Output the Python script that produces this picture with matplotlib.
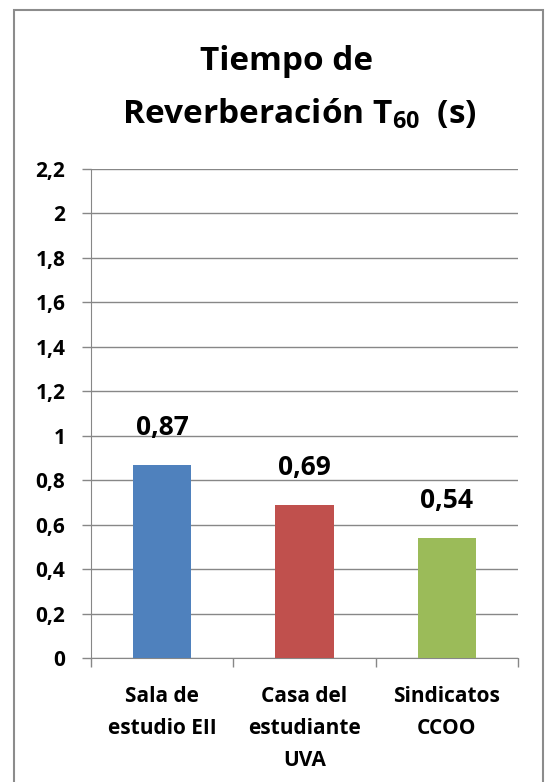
import matplotlib.pyplot as plt
from matplotlib.patches import Rectangle

# chart data
categories = ['Sala de\nestudio EII', 'Casa del\nestudiante\nUVA', 'Sindicatos\nCCOO']
values = [0.87, 0.69, 0.54]
value_labels = ['0,87', '0,69', '0,54']
colors = ['#4f81bd', '#c0504d', '#9bbb59']
yticks = [0, 0.2, 0.4, 0.6, 0.8, 1.0, 1.2, 1.4, 1.6, 1.8, 2.0, 2.2]
ytick_labels = ['0', '0,2', '0,4', '0,6', '0,8', '1', '1,2', '1,4', '1,6', '1,8', '2', '2,2']

plt.rcParams['font.family'] = ['Open Sans', 'DejaVu Sans']
plt.rcParams['mathtext.fontset'] = 'custom'
plt.rcParams['mathtext.rm'] = 'Open Sans:bold'
plt.rcParams['mathtext.bf'] = 'Open Sans:bold'
grid_col = '#878787'

W, H = 547, 782
fig = plt.figure(figsize=(W / 100, H / 100), dpi=100)

# outer chart border
fig.patches.append(Rectangle((14 / W, -0.01), (543 - 14) / W, 1 - 10 / H + 0.01,
                             transform=fig.transFigure, fill=False,
                             edgecolor='#8c8c8c', linewidth=1.5))

ax = fig.add_axes([91 / W, 1 - 658 / H, (518 - 91) / W, (658 - 169) / H])
x = range(len(values))
ax.bar(x, values, width=0.41, color=colors, zorder=3)

ax.set_xlim(-0.5, 2.5)
ax.set_ylim(0, 2.2)
ax.set_yticks(yticks)
ax.set_yticklabels(ytick_labels, fontsize=15, fontweight='bold')
ax.grid(axis='y', color=grid_col, linewidth=1, zorder=0)

ax.set_xticks([-0.5, 0.5, 1.5, 2.5])
ax.set_xticklabels([])
ax.tick_params(axis='x', length=6.5, color=grid_col, width=1)
ax.tick_params(axis='y', length=6.5, color=grid_col, width=1, pad=12)
for i, c in enumerate(categories):
    ax.text(i, -0.125, c, ha='center', va='top', fontsize=15,
            fontweight='bold', linespacing=1.7)

for s in ['top', 'right']:
    ax.spines[s].set_visible(False)
for s in ['left', 'bottom']:
    ax.spines[s].set_color(grid_col)

for i, (v, lab) in enumerate(zip(values, value_labels)):
    ax.text(i, v + 0.135, lab, ha='center', va='baseline', fontsize=19, fontweight='bold')

fig.text(287 / W, 1 - 62 / H, 'Tiempo de', ha='center', va='center',
         fontsize=24, fontweight='bold')
fig.text(299 / W, 1 - 114 / H, r'Reverberación T$_{\mathrm{60}}$  (s)', ha='center', va='center',
         fontsize=24, fontweight='bold')

fig.savefig('out.png', dpi=100)
